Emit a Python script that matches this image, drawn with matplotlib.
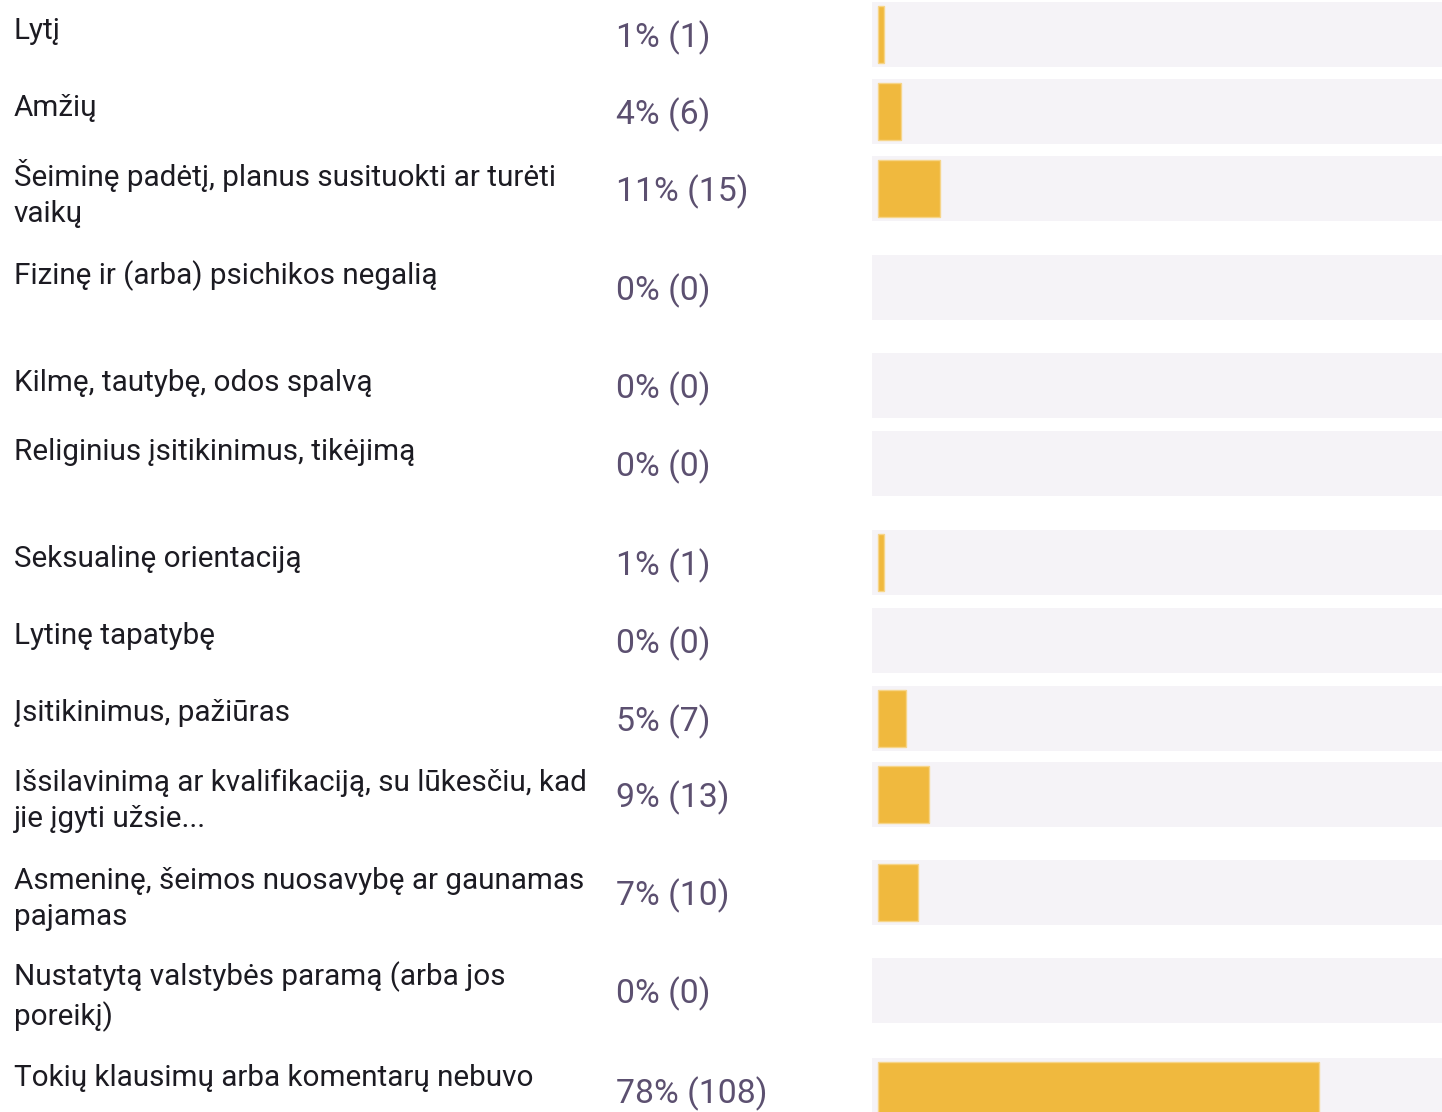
import matplotlib
matplotlib.use("Agg")
import matplotlib.pyplot as plt

# ---- data ----
labels = [
    "Lytį",
    "Amžių",
    "Šeiminę padėtį, planus susituokti ar turėti\nvaikų",
    "Fizinę ir (arba) psichikos negalią",
    "Kilmę, tautybę, odos spalvą",
    "Religinius įsitikinimus, tikėjimą",
    "Seksualinę orientaciją",
    "Lytinę tapatybę",
    "Įsitikinimus, pažiūras",
    "Išsilavinimą ar kvalifikaciją, su lūkesčiu, kad\njie įgyti užsie...",
    "Asmeninę, šeimos nuosavybę ar gaunamas\npajamas",
    "Nustatytą valstybės paramą (arba jos\nporeikį)",
    "Tokių klausimų arba komentarų nebuvo",
]
percents = [1, 4, 11, 0, 0, 0, 1, 0, 5, 9, 7, 0, 78]
counts = [1, 6, 15, 0, 0, 0, 1, 0, 7, 13, 10, 0, 108]

# ---- layout (pixels) ----
W, H = 1442, 1112
row_top = [2, 79, 156, 255, 353, 431, 530, 608, 686, 762, 860, 958, 1058]
label_baseline_dy = [37, 37, 29, 29, 38, 29, 37, 36, 35, 28, 28, 30, 28]
line_step = 37
track_h = 65
bar_h = 57

BAR = "#F0B93E"
BAR_EDGE = "#F6D58A"
TRACK = "#F5F3F7"
LABEL_C = "#1C1B22"
PCT_C = "#5C5070"
FONT = "Roboto"

fig = plt.figure(figsize=(W / 100, H / 100), dpi=100)
fig.patch.set_facecolor("white")

ax_left, ax_right = 872, 1442
ax = fig.add_axes([ax_left / W, 0, (ax_right - ax_left) / W, 1])
px_per_unit = 5.66
x0 = -(878 - ax_left) / px_per_unit
x1 = (ax_right - 878) / px_per_unit
ax.set_xlim(x0, x1)
ax.set_ylim(H, 0)
ax.axis("off")

centers = [t + track_h / 2 for t in row_top]
# background tracks
ax.barh(centers, [x1 - x0] * len(centers), left=x0, height=track_h,
        color=TRACK, edgecolor="none", zorder=1)
# value bars
edge_colors = [BAR_EDGE if p > 0 else "none" for p in percents]
ax.barh(centers, percents, left=0, height=bar_h, color=BAR,
        edgecolor=edge_colors, linewidth=1.0, zorder=2)


def fx(x):
    return x / W


def fy(y):
    return 1 - y / H


for lab, top, dy in zip(labels, row_top, label_baseline_dy):
    n_lines = lab.count("\n") + 1
    fig.text(fx(14), fy(top + dy + (n_lines - 1) * line_step), lab,
             ha="left", va="baseline", fontsize=21.3, color=LABEL_C,
             family=FONT, linespacing=1.37)

for p, c, cy in zip(percents, counts, centers):
    fig.text(fx(616), fy(cy + 3.5), f"{p}% ({c})", ha="left", va="center",
             fontsize=24.3, color=PCT_C, family=FONT)

fig.savefig("out.png", dpi=100, facecolor="white")
